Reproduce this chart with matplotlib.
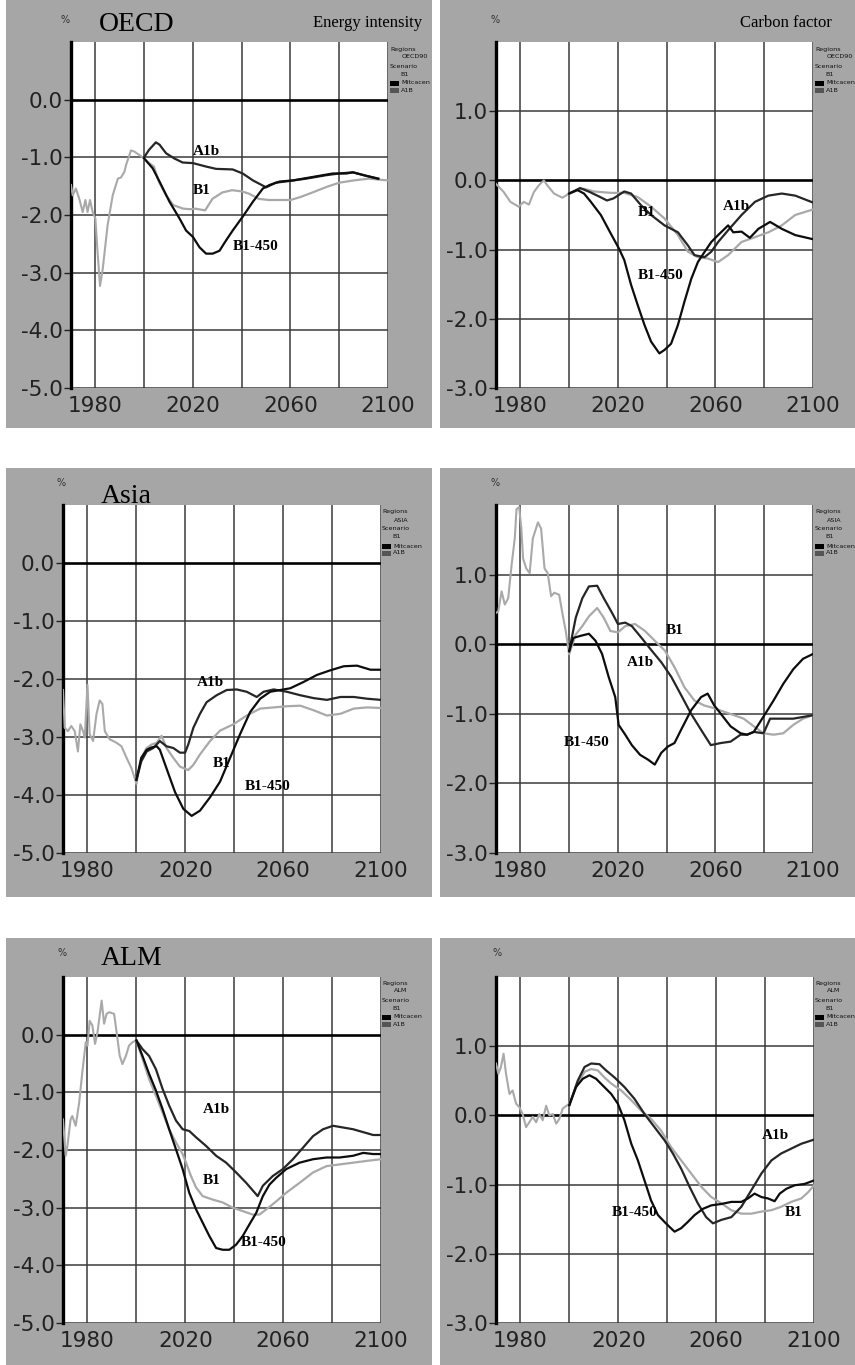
import matplotlib
matplotlib.use("Agg")
import matplotlib.pyplot as plt
from matplotlib.patches import Rectangle

plt.rcParams["axes.unicode_minus"] = False

# ---------------- data ----------------
# OECD - energy intensity
oecd_ei_hist_yr = [1970, 1970.7, 1972, 1973.4, 1974.8, 1975.9, 1976.8, 1977.8, 1978.9, 1980, 1980.9, 1981.9,
                   1983, 1985, 1987.1, 1989.2, 1990.5, 1991.9, 1992.6, 1994.6, 1996, 1998, 2000]
oecd_ei_hist = [-1.48, -1.66, -1.54, -1.72, -1.95, -1.74, -1.95, -1.74, -1.95, -2.06, -2.65, -3.23,
                -2.94, -2.18, -1.66, -1.37, -1.35, -1.25, -1.13, -0.88, -0.90, -0.96, -1.02]
oecd_ei_b1_yr = [2000, 2002, 2004, 2006, 2009, 2012, 2016, 2019, 2021, 2025, 2028, 2032, 2036, 2040, 2043,
                 2047, 2051, 2060, 2064, 2069, 2075, 2080, 2086, 2092, 2100]
oecd_ei_b1 = [-1.02, -1.10, -1.16, -1.42, -1.66, -1.83, -1.89, -1.90, -1.89, -1.92, -1.72, -1.61, -1.57,
              -1.59, -1.63, -1.72, -1.74, -1.74, -1.69, -1.61, -1.51, -1.44, -1.40, -1.37, -1.40]
oecd_ei_a1b_yr = [2000, 2002, 2004.8, 2006.3, 2009, 2012.4, 2015.8, 2020, 2025.4, 2029.5, 2036.3, 2040.4,
                  2044.6, 2050, 2054, 2059.6, 2066.4, 2074.6, 2080, 2085.6, 2091, 2096]
oecd_ei_a1b = [-1.0, -0.87, -0.74, -0.78, -0.93, -1.02, -1.09, -1.10, -1.16, -1.20, -1.21, -1.28, -1.40,
               -1.52, -1.44, -1.41, -1.37, -1.31, -1.28, -1.26, -1.32, -1.37]
oecd_ei_b1450_yr = [2000, 2003.5, 2006.3, 2010.4, 2014.5, 2017.2, 2020, 2022.7, 2025.4, 2028.1, 2030.9,
                    2033.6, 2036.3, 2040.4, 2044.6, 2048.7, 2051.4, 2055.5, 2061, 2069.2, 2077.4, 2083,
                    2085.6, 2091, 2096]
oecd_ei_b1450 = [-1.02, -1.19, -1.42, -1.77, -2.06, -2.27, -2.38, -2.56, -2.67, -2.67, -2.62, -2.44, -2.27,
                 -2.03, -1.77, -1.54, -1.48, -1.42, -1.40, -1.34, -1.28, -1.28, -1.26, -1.32, -1.37]

# OECD - carbon factor
oecd_cf_hist_yr = [1970, 1973.2, 1975.9, 1979.3, 1981.4, 1983.5, 1985.5, 1987.6, 1989.6, 1991, 1993.8,
                   1997.2, 2000]
oecd_cf_hist = [-0.05, -0.17, -0.31, -0.38, -0.31, -0.35, -0.17, -0.07, 0.0, -0.07, -0.19, -0.25, -0.19]
oecd_cf_b1_yr = [2000, 2003.4, 2006.1, 2010.2, 2017.1, 2022.6, 2028.1, 2033.6, 2039.1, 2044.6, 2048.7,
                 2052.8, 2057, 2061.1, 2065.2, 2070.7, 2076.2, 2081.7, 2087.2, 2092.7, 2100]
oecd_cf_b1 = [-0.19, -0.14, -0.12, -0.16, -0.18, -0.18, -0.24, -0.38, -0.55, -0.79, -1.03, -1.11, -1.13,
              -1.18, -1.08, -0.89, -0.82, -0.75, -0.65, -0.50, -0.42]
oecd_cf_a1b_yr = [2000, 2004.5, 2008.6, 2012.7, 2015.5, 2018.2, 2022.6, 2025.4, 2029.5, 2033.6, 2039.1,
                  2044.6, 2048.7, 2051.4, 2055.5, 2058.3, 2061.1, 2065.2, 2070.7, 2076.2, 2081.7, 2087.2,
                  2092.7, 2100]
oecd_cf_a1b = [-0.19, -0.11, -0.17, -0.24, -0.29, -0.26, -0.16, -0.19, -0.36, -0.50, -0.65, -0.75, -0.94,
               -1.08, -1.11, -1.03, -0.89, -0.72, -0.50, -0.31, -0.22, -0.19, -0.22, -0.32]
oecd_cf_b1450_yr = [2000, 2003.4, 2006.1, 2008.9, 2013, 2017.1, 2020.5, 2022.6, 2025.4, 2028.1, 2030.9,
                    2033.6, 2037, 2039.1, 2041.8, 2044.6, 2047.3, 2050.1, 2052.8, 2055.6, 2058.3, 2061.1,
                    2065.2, 2067.3, 2070.7, 2074.1, 2077.6, 2082.4, 2087.2, 2092.7, 2100]
oecd_cf_b1450 = [-0.19, -0.14, -0.19, -0.31, -0.50, -0.77, -0.99, -1.15, -1.51, -1.80, -2.09, -2.33, -2.50,
                 -2.45, -2.36, -2.09, -1.75, -1.42, -1.18, -1.03, -0.89, -0.79, -0.65, -0.75, -0.74, -0.83,
                 -0.70, -0.60, -0.70, -0.79, -0.85]

# Asia - energy intensity
asia_ei_hist_yr = [1970, 1970.7, 1972, 1973.4, 1974.8, 1976.1, 1977.1, 1978.2, 1978.9, 1980, 1980.9, 1982.3,
                   1983.7, 1985, 1986.1, 1987.1, 1989.1, 1991.9, 1993.9, 1996, 1998, 2000]
asia_ei_hist = [-2.19, -2.84, -2.90, -2.81, -2.90, -3.25, -2.78, -2.90, -3.01, -2.10, -2.95, -3.07, -2.60,
                -2.37, -2.43, -2.90, -3.04, -3.10, -3.16, -3.36, -3.54, -3.80]
asia_ei_b1_yr = [2000, 2002, 2004.2, 2006.2, 2008.3, 2010.3, 2012.3, 2015.1, 2017.8, 2021.2, 2023.3, 2026,
                 2030.1, 2034.2, 2039.7, 2045.1, 2050.6, 2056.1, 2061.5, 2067, 2072.5, 2077.9, 2083.4,
                 2088.9, 2094.3, 2100]
asia_ei_b1 = [-3.80, -3.36, -3.19, -3.13, -3.10, -2.98, -3.19, -3.36, -3.51, -3.57, -3.48, -3.30, -3.07,
              -2.89, -2.78, -2.63, -2.51, -2.49, -2.47, -2.46, -2.54, -2.63, -2.60, -2.51, -2.49, -2.50]
asia_ei_a1b_yr = [2000, 2002, 2004.2, 2006.9, 2009.6, 2012.3, 2015.1, 2017.8, 2019.9, 2021.2, 2023.3, 2026,
                  2028.7, 2032.8, 2036.9, 2041, 2045.1, 2049.2, 2052, 2056.1, 2061.5, 2067, 2072.5, 2077.9,
                  2083.4, 2088.9, 2094.3, 2100]
asia_ei_a1b = [-3.74, -3.42, -3.25, -3.19, -3.07, -3.16, -3.19, -3.27, -3.27, -3.13, -2.84, -2.60, -2.40,
               -2.28, -2.19, -2.18, -2.22, -2.31, -2.22, -2.18, -2.22, -2.28, -2.33, -2.36, -2.31, -2.31,
               -2.34, -2.36]
asia_ei_b1450_yr = [2000, 2002, 2004.2, 2006.2, 2008.3, 2009.6, 2012.3, 2015.8, 2019.2, 2022.6, 2026,
                    2030.1, 2034.2, 2038.3, 2042.4, 2046.5, 2050.6, 2054.7, 2058.8, 2062.9, 2068.4, 2073.8,
                    2079.3, 2084.8, 2090.2, 2095.7, 2100]
asia_ei_b1450 = [-3.74, -3.36, -3.22, -3.18, -3.16, -3.22, -3.54, -3.95, -4.24, -4.36, -4.27, -4.04, -3.77,
                 -3.36, -2.95, -2.57, -2.34, -2.22, -2.19, -2.16, -2.05, -1.93, -1.85, -1.78, -1.77, -1.84,
                 -1.84]

# Asia - carbon factor
asia_cf_hist_yr = [1970, 1970.9, 1972.3, 1973.6, 1975, 1976.4, 1977.7, 1978.4, 1979.5, 1980.4, 1981.1,
                   1982.4, 1983.8, 1985.1, 1987.2, 1988.5, 1989.9, 1991.2, 1992.6, 1993.9, 1995.9, 1997.3,
                   1998.6, 2000]
asia_cf_hist = [0.45, 0.47, 0.76, 0.57, 0.66, 1.14, 1.52, 1.94, 1.97, 1.66, 1.23, 1.09, 1.02, 1.52, 1.75,
                1.66, 1.09, 1.02, 0.69, 0.74, 0.71, 0.43, 0.19, -0.14]
asia_cf_b1_yr = [2000, 2002.7, 2005.4, 2008.1, 2011.5, 2014.2, 2016.9, 2020, 2023, 2027, 2031.1, 2035.1,
                 2039.2, 2043.2, 2047.3, 2051.4, 2055.4, 2059.5, 2063.5, 2067.6, 2071.6, 2075.7, 2079.7,
                 2083.8, 2087.8, 2091.9, 2095.9, 2100]
asia_cf_b1 = [-0.14, 0.14, 0.26, 0.40, 0.52, 0.38, 0.19, 0.17, 0.26, 0.29, 0.19, 0.05, -0.09, -0.33,
              -0.62, -0.81, -0.88, -0.92, -0.97, -1.02, -1.07, -1.18, -1.28, -1.30, -1.28, -1.16, -1.07,
              -1.02]
asia_cf_a1b_yr = [2000, 2002.7, 2005.4, 2008.1, 2011.5, 2014.2, 2017.6, 2020, 2023, 2025.7, 2029.7, 2033.8,
                  2037.8, 2041.9, 2045.9, 2050, 2054.1, 2058.1, 2062.2, 2066.2, 2070.3, 2073, 2075.7,
                  2079.7, 2082.4, 2086.5, 2091.9, 2100]
asia_cf_a1b = [-0.10, 0.38, 0.66, 0.83, 0.84, 0.66, 0.45, 0.29, 0.31, 0.26, 0.09, -0.09, -0.26, -0.47,
               -0.73, -1.00, -1.23, -1.45, -1.42, -1.40, -1.30, -1.30, -1.26, -1.28, -1.07, -1.07, -1.07,
               -1.02]
asia_cf_b1450_yr = [2000, 2001.7, 2004.7, 2008.1, 2010.8, 2013.5, 2016.2, 2018.9, 2020.3, 2023, 2025.7,
                    2029.1, 2032.4, 2035.1, 2037.8, 2040.5, 2043.2, 2045.9, 2050, 2054.1, 2056.8, 2059.5,
                    2062.2, 2066.2, 2070.3, 2073, 2075.7, 2079.7, 2083.8, 2087.8, 2091.9, 2095.9, 2100]
asia_cf_b1450 = [-0.10, 0.09, 0.12, 0.15, 0.05, -0.14, -0.47, -0.76, -1.16, -1.30, -1.45, -1.59, -1.66,
                 -1.73, -1.56, -1.47, -1.42, -1.23, -0.95, -0.76, -0.71, -0.88, -1.00, -1.18, -1.28, -1.30,
                 -1.26, -1.04, -0.81, -0.57, -0.36, -0.21, -0.14]

# ALM - energy intensity
alm_ei_hist_yr = [1970, 1971.1, 1971.8, 1973.1, 1973.8, 1975.2, 1976.6, 1977.9, 1979.3, 1980, 1980.9, 1982,
                  1983.1, 1984.1, 1984.8, 1985.8, 1986.8, 1987.8, 1988.9, 1990.9, 1992.3, 1993.2, 1994.3,
                  1995.7, 1997, 1998.4, 2000]
alm_ei_hist = [-1.47, -2.10, -1.93, -1.47, -1.41, -1.58, -1.18, -0.65, -0.13, -0.19, 0.24, 0.16, -0.16,
               0.04, 0.27, 0.59, 0.19, 0.36, 0.39, 0.36, -0.08, -0.37, -0.51, -0.37, -0.19, -0.13, -0.10]
alm_ei_b1_yr = [2000, 2002.5, 2005.2, 2008, 2010.7, 2013.4, 2016.2, 2018.9, 2020.3, 2022.3, 2024.4, 2027.1,
                2031.2, 2035.3, 2039.4, 2043.5, 2047.6, 2050.3, 2053.1, 2057.2, 2061.3, 2066.7, 2072.2,
                2077.7, 2083.1, 2088.6, 2094, 2100]
alm_ei_b1 = [-0.10, -0.42, -0.77, -1.06, -1.35, -1.64, -1.87, -2.07, -2.22, -2.45, -2.65, -2.80, -2.86,
             -2.91, -3.00, -3.06, -3.12, -3.12, -3.03, -2.89, -2.74, -2.57, -2.39, -2.28, -2.25, -2.22,
             -2.19, -2.16]
alm_ei_a1b_yr = [2000, 2002.5, 2005.2, 2008, 2010.7, 2013.4, 2016.2, 2018.9, 2021.6, 2024.4, 2028.5, 2032.6,
                 2036.7, 2040.8, 2044.9, 2049.6, 2051.7, 2055.8, 2059.9, 2064, 2068.1, 2072.2, 2076.3,
                 2080.4, 2084.5, 2088.6, 2092.7, 2096.8, 2100]
alm_ei_a1b = [-0.10, -0.25, -0.37, -0.60, -0.94, -1.23, -1.49, -1.64, -1.67, -1.78, -1.93, -2.10, -2.22,
              -2.39, -2.57, -2.80, -2.62, -2.45, -2.33, -2.16, -1.96, -1.76, -1.64, -1.58, -1.61, -1.64,
              -1.69, -1.74, -1.74]
alm_ei_b1450_yr = [2000, 2002.5, 2005.2, 2008, 2010.7, 2013.4, 2016.2, 2018.9, 2021.6, 2024.4, 2027.1,
                   2029.8, 2032.6, 2035.3, 2038, 2040.8, 2043.5, 2046.2, 2049, 2051.7, 2054.4, 2057.2,
                   2061.3, 2066.7, 2072.2, 2077.7, 2083.1, 2088.6, 2092.7, 2096.8, 2100]
alm_ei_b1450 = [-0.10, -0.37, -0.68, -0.97, -1.29, -1.64, -1.99, -2.33, -2.74, -3.03, -3.26, -3.49, -3.70,
                -3.73, -3.73, -3.64, -3.49, -3.29, -3.09, -2.80, -2.60, -2.48, -2.33, -2.22, -2.16, -2.13,
                -2.13, -2.10, -2.05, -2.07, -2.07]

# ALM - carbon factor
alm_cf_hist_yr = [1970, 1971, 1972, 1973.1, 1974.1, 1975.5, 1976.8, 1978.2, 1979.5, 1980.9, 1982.3, 1983.6,
                  1985, 1986.4, 1987.7, 1989.1, 1990.5, 1991.8, 1993.2, 1994.6, 1995.9, 1997.3, 2000]
alm_cf_hist = [0.75, 0.60, 0.70, 0.89, 0.60, 0.31, 0.36, 0.17, 0.12, 0.02, -0.17, -0.10, -0.02, -0.10,
               0.02, -0.07, 0.14, 0.0, 0.02, -0.12, -0.05, 0.10, 0.17]
alm_cf_b1_yr = [2000, 2003.4, 2006.2, 2008.9, 2011.6, 2014.3, 2017.1, 2021.2, 2025.3, 2029.3, 2033.4,
                2037.5, 2041.6, 2045.7, 2049.8, 2053.9, 2058, 2062.1, 2066.2, 2070.3, 2074.4, 2078.5,
                2082.6, 2086.6, 2090.7, 2094.8, 2097.6, 2100]
alm_cf_b1 = [0.17, 0.46, 0.63, 0.67, 0.65, 0.55, 0.46, 0.36, 0.22, 0.07, -0.05, -0.22, -0.46, -0.65,
             -0.84, -1.03, -1.18, -1.27, -1.37, -1.42, -1.42, -1.39, -1.37, -1.32, -1.25, -1.20, -1.11,
             -1.01]
alm_cf_a1b_yr = [2000, 2003.4, 2006.2, 2008.9, 2012.3, 2015, 2018.4, 2022.5, 2026.6, 2030.7, 2034.8,
                 2038.9, 2042.3, 2045.7, 2049.1, 2052.5, 2055.9, 2058.7, 2062.1, 2066.2, 2070.3, 2074.4,
                 2078.5, 2082.6, 2086.6, 2090.7, 2094.8, 2100]
alm_cf_a1b = [0.15, 0.50, 0.70, 0.75, 0.74, 0.65, 0.55, 0.41, 0.24, 0.02, -0.17, -0.36, -0.55, -0.77,
              -1.03, -1.27, -1.47, -1.56, -1.51, -1.47, -1.32, -1.08, -0.84, -0.65, -0.55, -0.48, -0.41,
              -0.35]
alm_cf_b1450_yr = [2000, 2002.7, 2005.5, 2008.2, 2010.9, 2013.7, 2017.1, 2019.8, 2022.5, 2025.3, 2028,
                   2030.7, 2033.4, 2036.2, 2038.9, 2040.9, 2043, 2045.7, 2048.4, 2051.2, 2054.6, 2058,
                   2062.1, 2066.2, 2070.3, 2073, 2075.7, 2078.5, 2081.2, 2083.9, 2086, 2088.7, 2092.1,
                   2096.2, 2100]
alm_cf_b1450 = [0.15, 0.41, 0.53, 0.58, 0.53, 0.43, 0.31, 0.17, -0.07, -0.41, -0.65, -0.94, -1.23, -1.44,
                -1.54, -1.61, -1.68, -1.63, -1.54, -1.44, -1.35, -1.30, -1.28, -1.25, -1.25, -1.20, -1.13,
                -1.18, -1.20, -1.24, -1.13, -1.06, -1.01, -0.99, -0.94]

x_grid = [1980, 2000, 2020, 2040, 2060, 2080, 2100]
x_labels = [1980, 2020, 2060, 2100]

# ---------------- layout (pixels of the 855x1365 picture) ----------------
W, H = 855, 1365
GRAY_BG = "#a6a6a6"
C_B1 = "#a9a9a9"
C_A1B = "#262626"
C_B1450 = "#0d0d0d"

fig = plt.figure(figsize=(W / 100, H / 100), dpi=100)
fig.patch.set_facecolor("white")


def px_rect(x0, y0, x1, y1):
    return [x0 / W, 1 - y1 / H, (x1 - x0) / W, (y1 - y0) / H]


# gray panel backgrounds (drawn below the axes)
for (x0, x1) in [(6, 432), (440, 855)]:
    for (y0, y1) in [(0, 428), (468, 897), (938, 1365)]:
        fig.patches.append(Rectangle((x0 / W, 1 - y1 / H), (x1 - x0) / W, (y1 - y0) / H,
                                     transform=fig.transFigure, facecolor=GRAY_BG,
                                     edgecolor="none", zorder=-10))


def ftext(x, y, s, **kw):
    fig.text(x / W, 1 - y / H, s, **kw)


def draw_panel(box, ylim, hist, series, labels, region, legend_x, legend_y):
    ax = fig.add_axes(px_rect(*box))
    ax.set_facecolor("white")
    ax.set_xlim(1970, 2100)
    ax.set_ylim(*ylim)
    yt = list(range(ylim[0], ylim[1]))
    ax.set_yticks(yt)
    ax.set_yticklabels(["%.1f" % v for v in yt])
    ax.set_xticks(x_labels)
    for g in x_grid:
        ax.axvline(g, color="#3a3a3a", lw=1.1, zorder=1)
    for v in yt:
        ax.axhline(v, color="#000000" if v == 0 else "#3a3a3a",
                   lw=1.9 if v == 0 else 1.1, zorder=1)
    ax.tick_params(axis="x", length=0, labelsize=15.5, pad=6, colors="#222")
    ax.tick_params(axis="y", length=5, width=1, labelsize=15.5, pad=1, colors="#222")
    for s in ["top", "right", "bottom"]:
        ax.spines[s].set_visible(False)
    ax.spines["left"].set_linewidth(2.4)
    ax.spines["left"].set_color("black")

    ax.plot(hist[0], hist[1], color=C_B1, lw=1.5, zorder=3)
    (b1x, b1y), (a1x, a1y), (bbx, bby) = series
    ax.plot(b1x, b1y, color=C_B1, lw=1.6, zorder=3)
    ax.plot(a1x, a1y, color=C_A1B, lw=1.6, zorder=4)
    ax.plot(bbx, bby, color=C_B1450, lw=1.6, zorder=4)
    for (lx, ly, txt) in labels:
        ax.text(lx, ly, txt, family="Liberation Serif", weight="bold", fontsize=11,
                ha="left", va="center", zorder=5)

    # small legend to the right of the plot
    lf = dict(fontsize=4.6, color="#111", va="center", ha="left")
    ftext(legend_x, legend_y, "Regions", **lf)
    ftext(legend_x + 12, legend_y + 8, region, **lf)
    ftext(legend_x, legend_y + 17, "Scenario", **lf)
    ftext(legend_x + 10, legend_y + 25, "B1", **lf)
    fig.patches.append(Rectangle((legend_x / W, 1 - (legend_y + 37) / H), 9 / W, 5 / H,
                                 transform=fig.transFigure, facecolor="#000", edgecolor="none"))
    ftext(legend_x + 11, legend_y + 34, "Mitcacen", **lf)
    fig.patches.append(Rectangle((legend_x / W, 1 - (legend_y + 44) / H), 9 / W, 5 / H,
                                 transform=fig.transFigure, facecolor="#555", edgecolor="none"))
    ftext(legend_x + 11, legend_y + 41, "A1B", **lf)
    return ax


# row 1: OECD
draw_panel((71, 42, 388, 388), (-5, 1),
           (oecd_ei_hist_yr, oecd_ei_hist),
           [(oecd_ei_b1_yr, oecd_ei_b1), (oecd_ei_a1b_yr, oecd_ei_a1b), (oecd_ei_b1450_yr, oecd_ei_b1450)],
           [(2020, -0.90, "A1b"), (2020, -1.58, "B1"), (2036.5, -2.54, "B1-450")],
           "OECD90", 390, 49)
draw_panel((496, 42, 813, 388), (-3, 2),
           (oecd_cf_hist_yr, oecd_cf_hist),
           [(oecd_cf_b1_yr, oecd_cf_b1), (oecd_cf_a1b_yr, oecd_cf_a1b), (oecd_cf_b1450_yr, oecd_cf_b1450)],
           [(2028, -0.47, "B1"), (2063.2, -0.375, "A1b"), (2028, -1.38, "B1-450")],
           "OECD90", 815, 49)

# row 2: Asia
draw_panel((63, 505, 381, 853), (-5, 1),
           (asia_ei_hist_yr, asia_ei_hist),
           [(asia_ei_b1_yr, asia_ei_b1), (asia_ei_a1b_yr, asia_ei_a1b), (asia_ei_b1450_yr, asia_ei_b1450)],
           [(2024.6, -2.06, "A1b"), (2031.2, -3.46, "B1"), (2044.2, -3.86, "B1-450")],
           "ASIA", 382, 512)
draw_panel((496, 505, 813, 853), (-3, 2),
           (asia_cf_hist_yr, asia_cf_hist),
           [(asia_cf_b1_yr, asia_cf_b1), (asia_cf_a1b_yr, asia_cf_a1b), (asia_cf_b1450_yr, asia_cf_b1450)],
           [(2039.6, 0.19, "B1"), (2023.6, -0.27, "A1b"), (1998, -1.41, "B1-450")],
           "ASIA", 815, 512)

# row 3: ALM
draw_panel((63, 977, 381, 1323), (-5, 1),
           (alm_ei_hist_yr, alm_ei_hist),
           [(alm_ei_b1_yr, alm_ei_b1), (alm_ei_a1b_yr, alm_ei_a1b), (alm_ei_b1450_yr, alm_ei_b1450)],
           [(2027.1, -1.30, "A1b"), (2027.1, -2.53, "B1"), (2042.8, -3.61, "B1-450")],
           "ALM", 382, 983)
draw_panel((496, 977, 814, 1323), (-3, 2),
           (alm_cf_hist_yr, alm_cf_hist),
           [(alm_cf_b1_yr, alm_cf_b1), (alm_cf_a1b_yr, alm_cf_a1b), (alm_cf_b1450_yr, alm_cf_b1450)],
           [(2078.5, -0.29, "A1b"), (2088, -1.40, "B1"), (2017.3, -1.40, "B1-450")],
           "ALM", 815, 983)

# headings
serif = "Liberation Serif"
ftext(65, 20, "%", fontsize=7, color="#333", ha="center", va="center")
ftext(99, 31, "OECD", family=serif, fontsize=20, ha="left", va="baseline")
ftext(422, 27, "Energy intensity", family=serif, fontsize=12, ha="right", va="baseline")
ftext(495, 20, "%", fontsize=7, color="#333", ha="center", va="center")
ftext(832, 27, "Carbon factor", family=serif, fontsize=12, ha="right", va="baseline")

ftext(61, 483, "%", fontsize=7, color="#333", ha="center", va="center")
ftext(101, 503, "Asia", family=serif, fontsize=20, ha="left", va="baseline")
ftext(495, 483, "%", fontsize=7, color="#333", ha="center", va="center")

ftext(62, 953, "%", fontsize=7, color="#333", ha="center", va="center")
ftext(101, 965, "ALM", family=serif, fontsize=20, ha="left", va="baseline")
ftext(497, 953, "%", fontsize=7, color="#333", ha="center", va="center")

fig.savefig("out.png", dpi=100, facecolor="white")
